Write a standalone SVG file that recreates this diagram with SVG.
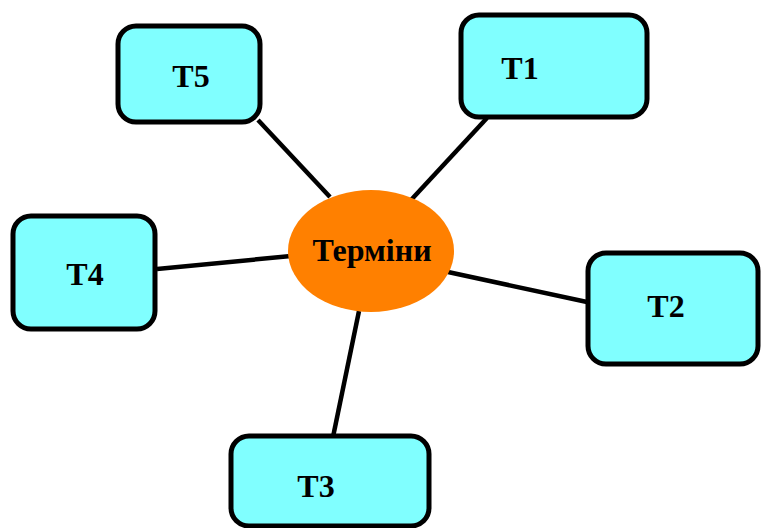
<svg xmlns="http://www.w3.org/2000/svg" width="763" height="528" viewBox="0 0 763 528">
<style>
.box{fill:#80FFFF;stroke:#000;stroke-width:5}
.lbl{font-family:"Liberation Serif","DejaVu Serif",serif;font-weight:bold;font-size:32px;fill:#000;text-anchor:middle;dominant-baseline:central}
.conn line{stroke:#000;stroke-width:4.5}
</style>
<rect width="763" height="528" fill="#fff"/>
<g id="connectors" class="conn">
<line x1="258" y1="120" x2="330" y2="197"/>
<line x1="487" y1="118" x2="411" y2="200"/>
<line x1="157" y1="269" x2="291" y2="256"/>
<line x1="448" y1="272" x2="587" y2="302"/>
<line x1="359" y1="311" x2="333" y2="437"/>
</g>
<g id="center">
<ellipse cx="371" cy="251" rx="83" ry="61" fill="#FF8000"/>
<text class="lbl" x="372" y="250">Терміни</text>
</g>
<g id="T5">
<rect class="box" x="118" y="26" width="142" height="96" rx="18"/>
<text class="lbl" x="191" y="76">T5</text>
</g>
<g id="T1">
<rect class="box" x="461" y="15" width="186" height="102" rx="18"/>
<text class="lbl" x="520" y="68">T1</text>
</g>
<g id="T4">
<rect class="box" x="13" y="216" width="142" height="113" rx="18"/>
<text class="lbl" x="85" y="274">T4</text>
</g>
<g id="T2">
<rect class="box" x="588" y="253" width="170" height="111" rx="18"/>
<text class="lbl" x="666" y="306">T2</text>
</g>
<g id="T3">
<rect class="box" x="231" y="436" width="198" height="90" rx="18"/>
<text class="lbl" x="316" y="486">T3</text>
</g>
</svg>
